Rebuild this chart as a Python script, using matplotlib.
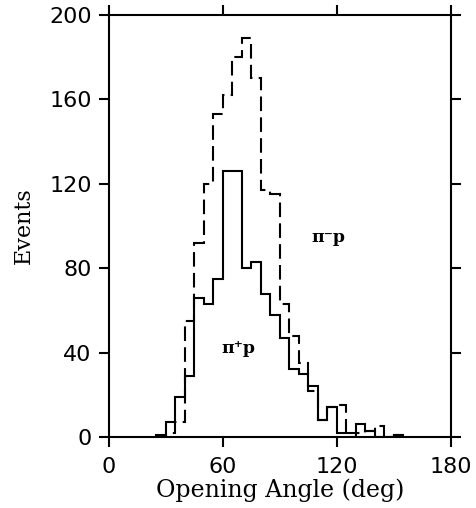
import numpy as np
import matplotlib
matplotlib.use("Agg")
import matplotlib.pyplot as plt

# Histogram data (5-degree bins starting at 25 deg)
bin_edges = np.arange(25, 160, 5)
pi_plus_p = [1, 7, 19, 29, 66, 63, 75, 126, 126, 80, 83, 68, 58, 47, 32, 30, 24, 8, 14, 2, 2, 6, 3, 0, 0, 1]
pi_minus_p = [0, 2, 7, 55, 92, 120, 153, 162, 180, 189, 170, 117, 115, 63, 48, 35, 22, 8, 14, 15, 0, 2, 3, 5, 0, 1]

x_ticks = [0, 60, 120, 180]
y_ticks = [0, 40, 80, 120, 160, 200]

fig = plt.figure(figsize=(4.76, 5.08), dpi=100)
ax = fig.add_axes([0.229, 0.1398, 0.718, 0.8307])

ax.stairs(pi_plus_p, bin_edges, baseline=0, color="black", lw=1.5)
ax.stairs(pi_minus_p, bin_edges, baseline=0, color="black", lw=1.5,
          linestyle=(0, (7, 3)))

ax.set_xlim(0, 180)
ax.set_ylim(0, 200)
ax.set_xticks(x_ticks)
ax.set_yticks(y_ticks)

for s in ax.spines.values():
    s.set_linewidth(1.5)

ax.tick_params(axis="both", which="major", direction="out", length=7.5, width=1.5,
               top=True, right=True, labelsize=16, pad=5)
ax.tick_params(axis="x", pad=7)
for lab in ax.get_xticklabels() + ax.get_yticklabels():
    lab.set_family("DejaVu Sans")

ax.set_xlabel("Opening Angle (deg)", family="DejaVu Serif", fontsize=17, labelpad=1)
ax.set_ylabel("Events", family="DejaVu Serif", fontsize=16, labelpad=10)

ax.text(115.5, 94.5, "π⁻p", family="DejaVu Serif", fontweight="bold", fontsize=12.5,
        ha="center", va="center")
ax.text(68, 42, "π⁺p", family="DejaVu Serif", fontweight="bold", fontsize=12.5,
        ha="center", va="center")

fig.savefig("out.png", dpi=100)
